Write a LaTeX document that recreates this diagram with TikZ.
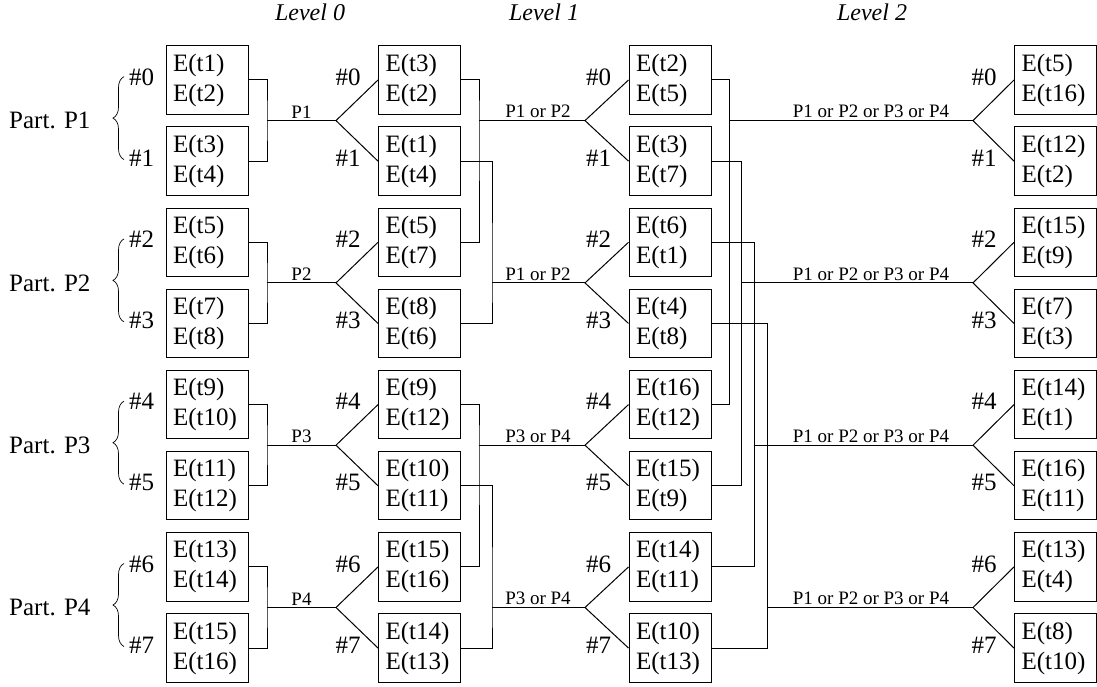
\documentclass[tikz,border=0pt]{standalone}
\usepackage{fontspec}
\setmainfont{Liberation Serif}
\usetikzlibrary{decorations.pathreplacing, calc}

\tikzset{
  ebox/.style={draw, line width=1pt, text width=68pt, inner xsep=7pt, inner ysep=0pt,
    minimum height=68.3pt, align=left, font=\fontsize{25}{30}\selectfont},
  idx/.style={anchor=east, inner sep=0pt, font=\fontsize{25}{30}\selectfont},
  lbl/.style={anchor=south, inner sep=2pt, font=\fontsize{19}{22}\selectfont},
  lvl/.style={font=\fontsize{24}{28}\selectfont\itshape},
  part/.style={anchor=east, inner sep=0pt, font=\fontsize{25}{30}\selectfont},
}

\begin{document}
\begin{tikzpicture}[x=1pt, y=-1pt, line width=1pt]
        \useasboundingbox (0,0) rectangle (1097,687);

        % Level titles
        \node[lvl] (l0) at (310,12) {Level 0};
        \node[lvl] (l1) at (544,12) {Level 1};
        \node[lvl] (l2) at (872,12) {Level 2};

        % Boxes of the four columns
        \foreach \i/\p/\q in {0/1/2,1/3/4,2/5/6,3/7/8,4/9/10,5/11/12,6/13/14,7/15/16}
            \node[ebox] (a\i) at (207,{80+81.15*\i}) {E(t\p)\\E(t\q)};
        \foreach \i/\p/\q in {0/3/2,1/1/4,2/5/7,3/8/6,4/9/12,5/10/11,6/15/16,7/14/13}
            \node[ebox] (b\i) at (419.5,{80+81.15*\i}) {E(t\p)\\E(t\q)};
        \foreach \i/\p/\q in {0/2/5,1/3/7,2/6/1,3/4/8,4/16/12,5/15/9,6/14/11,7/10/13}
            \node[ebox] (c\i) at (670,{80+81.15*\i}) {E(t\p)\\E(t\q)};
        \foreach \i/\p/\q in {0/5/16,1/12/2,2/15/9,3/7/3,4/14/1,5/16/11,6/13/4,7/8/10}
            \node[ebox] (d\i) at (1055.5,{80+81.15*\i}) {E(t\p)\\E(t\q)};

        % Indices next to the boxes
        \foreach \i in {0,...,7} {
            \node[idx] (na\i) at ($(a\i.west)+(-11,-3)$) {\#\i};
            \node[idx] (nb\i) at ($(b\i.west)+(-17,-3)$) {\#\i};
            \node[idx] (nc\i) at ($(c\i.west)+(-17,-3)$) {\#\i};
            \node[idx] (nd\i) at ($(d\i.west)+(-17,-3)$) {\#\i};
        }

        % Partitions with braces
        \foreach \k in {0,...,3} {
            \pgfmathtruncatemacro\pn{\k+1}
            \pgfmathsetmacro\m{120.6+162.3*\k}
            \node[part] (p\k) at (91,\m) {Part. P\pn};
            \draw[decorate, decoration={brace, amplitude=11pt}, line width=0.7pt]
                (124,\m+39) -- (124,\m-44);
        }

        % Level 0
        \foreach \k in {0,...,3} {
            \pgfmathtruncatemacro\ua{2*\k}
            \pgfmathtruncatemacro\lb{2*\k+1}
            \pgfmathtruncatemacro\pn{\k+1}
            \pgfmathsetmacro\m{120.6+162.3*\k}
            \coordinate (ja\k) at (267,\m);
            \coordinate (fa\k) at (336,\m);
            \draw (a\ua.east) -| (ja\k) |- (a\lb.east);
            \draw (ja\k) -- (fa\k);
            \draw (b\ua.west) -- (fa\k) -- (b\lb.west);
            \node[lbl] (la\k) at (301.5,\m) {P\pn};
        }

        % Level 1
        \foreach \k/\txt in {0/P1 or P2,1/P1 or P2,2/P3 or P4,3/P3 or P4} {
            \pgfmathtruncatemacro\ua{4*floor(\k/2)+mod(\k,2)}
            \pgfmathtruncatemacro\lb{\ua+2}
            \pgfmathtruncatemacro\cu{2*\k}
            \pgfmathtruncatemacro\cl{2*\k+1}
            \pgfmathsetmacro\jx{479+13*mod(\k,2)}
            \pgfmathsetmacro\m{120.6+162.3*\k}
            \coordinate (jb\k) at (\jx,\m);
            \coordinate (fb\k) at (585,\m);
            \draw (b\ua.east) -| (jb\k) |- (b\lb.east);
            \draw (jb\k) -- (fb\k);
            \draw (c\cu.west) -- (fb\k) -- (c\cl.west);
            \node[lbl] (lb\k) at (538,\m) {\txt};
        }

        % Level 2
        \foreach \k in {0,...,3} {
            \pgfmathtruncatemacro\lb{\k+4}
            \pgfmathtruncatemacro\cu{2*\k}
            \pgfmathtruncatemacro\cl{2*\k+1}
            \pgfmathsetmacro\jx{729+12.67*\k}
            \pgfmathsetmacro\m{120.6+162.3*\k}
            \coordinate (jc\k) at (\jx,\m);
            \coordinate (fc\k) at (973,\m);
            \draw (c\k.east) -| (jc\k) |- (c\lb.east);
            \draw (jc\k) -- (fc\k);
            \draw (d\cu.west) -- (fc\k) -- (d\cl.west);
            \node[lbl] (lc\k) at (871,\m) {P1 or P2 or P3 or P4};
        }

    \end{tikzpicture}
\end{document}
